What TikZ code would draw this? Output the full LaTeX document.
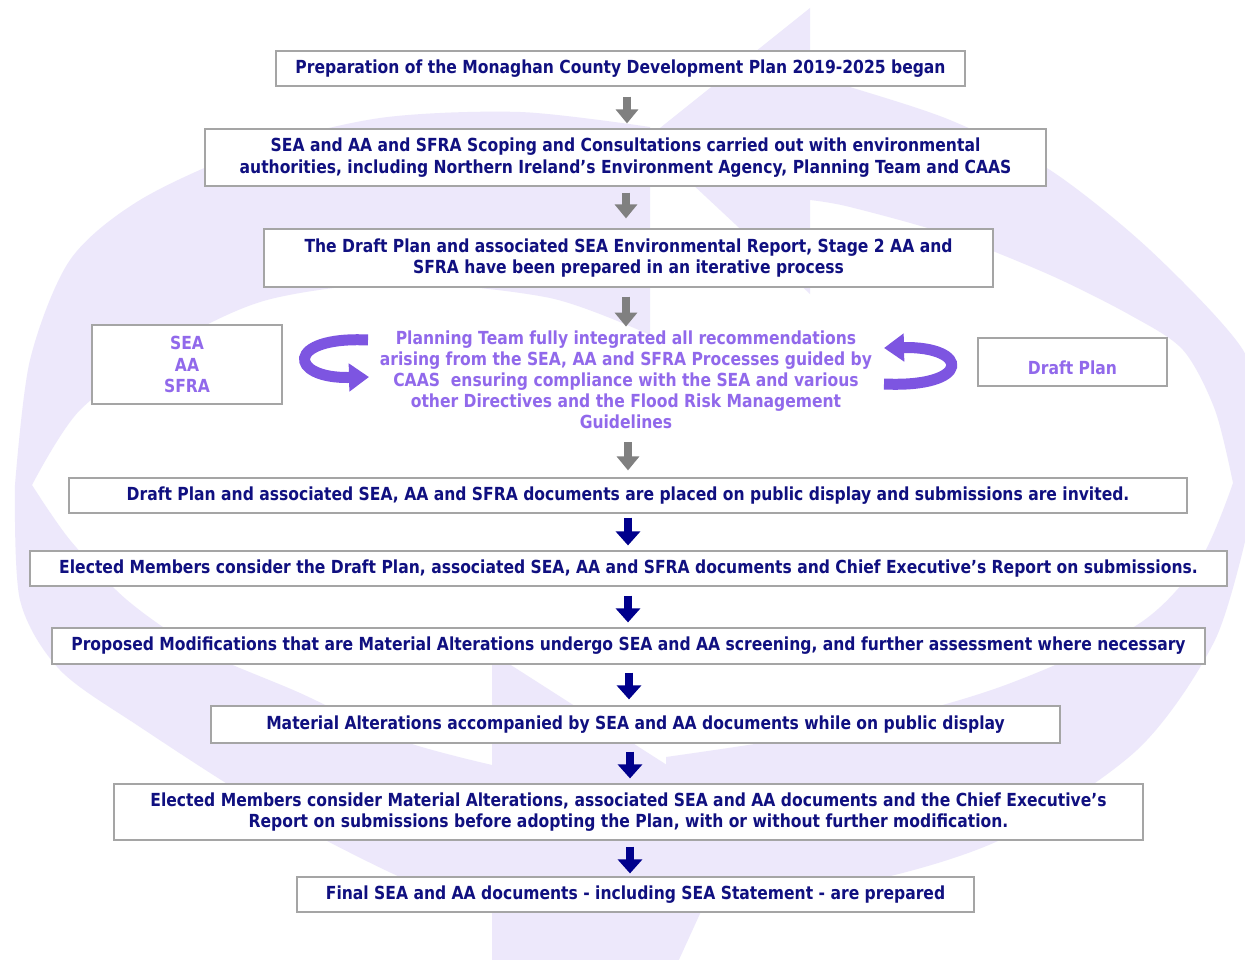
\documentclass[tikz,border=0pt]{standalone}
\usepackage{fontspec}
\setmainfont{DejaVu Sans}[FakeStretch=0.865]
\usetikzlibrary{arrows.meta,calc}
\definecolor{navytxt}{RGB}{16,16,128}
\definecolor{purtxt}{RGB}{145,105,235}
\definecolor{purarr}{RGB}{125,85,225}
\definecolor{boxgray}{RGB}{165,165,165}
\definecolor{arrgray}{RGB}{128,128,128}
\definecolor{arrnavy}{RGB}{0,0,140}
\definecolor{lav}{RGB}{237,232,251}
\begin{document}
\begin{tikzpicture}[x=1pt,y=-1pt,
  box/.style={draw=boxgray, line width=1.2pt, fill=white, align=center, text=navytxt,
    font=\bfseries\fontsize{18}{21.5}\selectfont, inner sep=0pt},
  sidebox/.style={box, text=purtxt},
  midtext/.style={align=center, text=purtxt, font=\bfseries\fontsize{18}{21}\selectfont, inner sep=0pt},
  garrow/.style={draw=arrgray, line width=8pt, -{Triangle[length=14pt,width=22pt]}},
  narrow/.style={draw=arrnavy, line width=8pt, -{Triangle[length=14pt,width=24pt]}},
  curv/.style={draw=purarr, line width=11pt, -{Triangle[length=20pt,width=27pt]}}]
\useasboundingbox (0,0) rectangle (1245,960);
\fill[white] (0,0) rectangle (1245,960);
% background circular arrows (pale, seen in perspective)
\begin{scope}
\clip (0,0) rectangle (1245,960);
% left arrow: tail at top, head at bottom
\fill[lav] (650,127)
  -- plot[smooth] coordinates {(650,127) (520,112) (380,118) (250,150) (140,200) (70,260) (30,360) (15,485)}
  -- plot[smooth] coordinates {(15,485) (20,600) (60,670) (140,727) (270,810) (400,877) (492,910)}
  -- (492,765)
  -- plot[smooth] coordinates {(492,765) (400,740) (300,693) (200,650) (127,600) (70,540) (32,485)}
  -- plot[smooth] coordinates {(32,485) (80,410) (170,345) (267,300) (400,283) (550,298) (650,335)}
  -- cycle;
\fill[lav] (492,653) -- (745,815) -- (672,975) -- (492,975) -- cycle;
% right arrow: tail at bottom, head at top
\fill[lav] (666,905)
  -- plot[smooth] coordinates {(666,905) (850,885) (1000,840) (1137,750) (1215,640) (1250,520)}
  -- plot[smooth] coordinates {(1250,520) (1255,420) (1243,350) (1150,250) (1050,170) (950,120) (850,87) (810,75)}
  -- (810,200)
  -- plot[smooth] coordinates {(810,200) (850,207) (950,235) (1050,275) (1130,315) (1183,350) (1215,410) (1233,483)}
  -- plot[smooth] coordinates {(1233,483) (1200,560) (1137,625) (1000,687) (850,728) (666,757)}
  -- cycle;
\fill[lav] (810,8) -- (810,294) -- (645,140) -- cycle;
\end{scope}
% boxes
\node[box, minimum width=689pt, minimum height=35pt] (b1) at (620.5,68.5) {Preparation of the Monaghan County Development Plan 2019-2025 began};
\node[box, minimum width=841pt, minimum height=57pt] (b2) at (625.5,157.5) {SEA and AA and SFRA Scoping and Consultations carried out with environmental\\authorities, including Northern Ireland’s Environment Agency, Planning Team and CAAS};
\node[box, minimum width=729pt, minimum height=58pt] (b3) at (628.5,258) {The Draft Plan and associated SEA Environmental Report, Stage 2 AA and\\SFRA have been prepared in an iterative process};
\node[sidebox, minimum width=190pt, minimum height=79pt] (sea) at (187,364.5) {SEA\\AA\\SFRA};
\node[sidebox, minimum width=189pt, minimum height=48pt, text height=30pt, text depth=6pt] (dp) at (1072.5,362) {Draft Plan};
\node[midtext] (mid) at (626,380) {Planning Team fully integrated all recommendations\\arising from the SEA, AA and SFRA Processes guided by\\CAAS\ \ ensuring compliance with the SEA and various\\other Directives and the Flood Risk Management\\Guidelines};
\node[box, minimum width=1118pt, minimum height=35pt] (b7) at (628,495.5) {Draft Plan and associated SEA, AA and SFRA documents are placed on public display and submissions are invited.};
\node[box, minimum width=1197pt, minimum height=35pt] (b8) at (628.5,568.5) {Elected Members consider the Draft Plan, associated SEA, AA and SFRA documents and Chief Executive’s Report on submissions.};
\node[box, minimum width=1153pt, minimum height=36pt] (b9) at (628.5,646) {Proposed Modifications that are Material Alterations undergo SEA and AA screening, and further assessment where necessary};
\node[box, minimum width=849pt, minimum height=37pt] (b10) at (635.5,724.5) {Material Alterations accompanied by SEA and AA documents while on public display};
\node[box, minimum width=1029pt, minimum height=56pt] (b11) at (628.5,812) {Elected Members consider Material Alterations, associated SEA and AA documents and the Chief Executive’s\\Report on submissions before adopting the Plan, with or without further modification.};
\node[box, minimum width=677pt, minimum height=35pt] (b12) at (635.5,894.5) {Final SEA and AA documents - including SEA Statement - are prepared};
% down arrows
\draw[garrow] ($(b1.south)+(6.5,10)$) -- ($(b2.north)+(1.5,-5)$);
\draw[garrow] ($(b2.south)+(0.5,6)$) -- ($(b3.north)+(-2.5,-10)$);
\draw[garrow] ($(b3.south)+(-2.5,9)$) -- ($(b3.south)+(-2.5,39)$);
\draw[garrow] ($(b7.north)+(0,-35)$) -- ($(b7.north)+(0,-7)$);
\draw[narrow] ($(b7.south)+(0,4)$) -- ($(b8.north)+(-0.5,-5)$);
\draw[narrow] ($(b8.south)+(-0.5,9)$) -- ($(b9.north)+(-0.5,-5)$);
\draw[narrow] ($(b9.south)+(0.5,8)$) -- ($(b10.north)+(-6.5,-6)$);
\draw[narrow] ($(b10.south)+(-5.5,8)$) -- ($(b11.north)+(1.5,-5)$);
\draw[narrow] ($(b11.south)+(1.5,6)$) -- ($(b12.north)+(-5.5,-3)$);
% curved purple arrows
\coordinate (l1) at (368,340);
\coordinate (l2) at (369,377);
\draw[curv] (l1) .. controls (285,336) and (288,379) .. (l2);
\coordinate (r1) at (884,384);
\coordinate (r2) at (884,348);
\draw[curv] (r1) .. controls (972,388) and (970,346) .. (r2);
\end{tikzpicture}
\end{document}
